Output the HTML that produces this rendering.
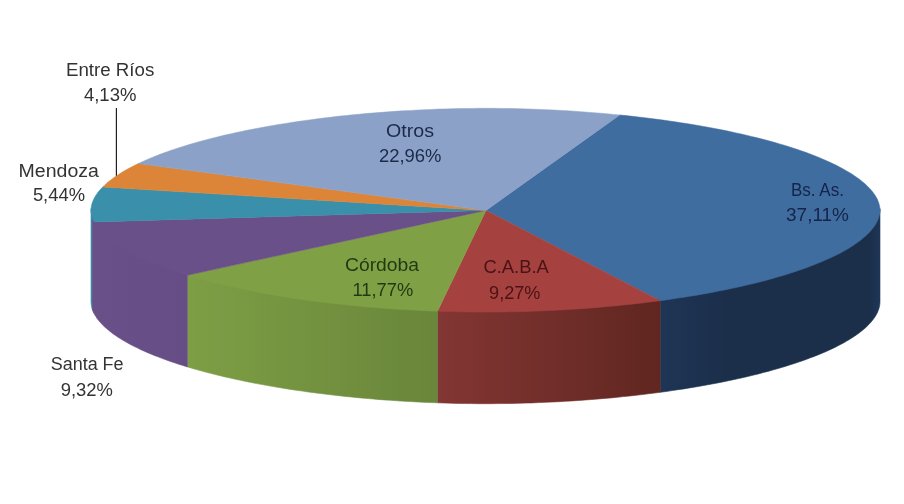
<!DOCTYPE html>
<html lang="es"><head><meta charset="utf-8"><title>Gráfico</title>
<style>html,body{margin:0;padding:0;background:#fff;}svg{display:block;}</style></head>
<body>
<svg width="904" height="504" viewBox="0 0 904 504">
<defs>
<linearGradient id="gBlue" gradientUnits="userSpaceOnUse" x1="660" y1="0" x2="881" y2="0">
<stop offset="0" stop-color="#1f3555"/><stop offset="0.3" stop-color="#1b2f4b"/><stop offset="0.95" stop-color="#1b2f4b"/><stop offset="1" stop-color="#1f3758"/></linearGradient>
<linearGradient id="gRed" gradientUnits="userSpaceOnUse" x1="438" y1="0" x2="662" y2="0">
<stop offset="0" stop-color="#833634"/><stop offset="1" stop-color="#602620"/></linearGradient>
<linearGradient id="gGreen" gradientUnits="userSpaceOnUse" x1="187" y1="0" x2="438" y2="0">
<stop offset="0" stop-color="#7e9e45"/><stop offset="1" stop-color="#69863a"/></linearGradient>
<linearGradient id="gPurple" gradientUnits="userSpaceOnUse" x1="91" y1="0" x2="187" y2="0">
<stop offset="0" stop-color="#6a5089"/><stop offset="1" stop-color="#664d85"/></linearGradient>
</defs>
<rect width="904" height="504" fill="#ffffff"/>
<polygon points="94.1,220.4 93.3,218.7 92.6,217.1 92.0,215.4 91.6,213.7 91.3,212.1 91.1,210.4 91.0,208.7 91.0,301.8 91.1,303.5 91.3,305.2 91.6,306.8 92.0,308.5 92.6,310.2 93.3,311.8 94.1,313.5" fill="#3a8ea8" stroke="#3a8ea8" stroke-width="0.6" stroke-linejoin="round"/>
<polygon points="880.0,208.7 879.9,210.5 879.7,212.2 879.3,214.0 878.9,215.7 878.2,217.5 877.5,219.3 876.6,221.0 875.6,222.8 874.5,224.5 873.3,226.2 871.9,227.9 870.4,229.7 868.8,231.4 867.1,233.1 865.3,234.8 863.4,236.5 861.3,238.1 859.1,239.8 856.9,241.5 854.5,243.1 852.0,244.7 849.4,246.4 846.7,248.0 843.9,249.6 841.0,251.1 838.0,252.7 834.9,254.3 831.7,255.8 828.4,257.3 825.0,258.9 821.5,260.3 817.9,261.8 814.2,263.3 810.4,264.7 806.6,266.2 802.6,267.6 798.6,269.0 794.4,270.4 790.2,271.7 785.9,273.1 781.5,274.4 777.1,275.7 772.5,277.0 767.9,278.3 763.2,279.5 758.4,280.8 753.5,282.0 748.6,283.2 743.5,284.4 738.5,285.5 733.3,286.6 728.1,287.7 722.8,288.8 717.4,289.9 711.9,290.9 706.4,291.9 700.9,292.9 695.2,293.9 689.5,294.8 683.8,295.8 678.0,296.6 672.1,297.5 666.1,298.4 660.2,299.2 660.2,392.3 666.1,391.5 672.1,390.6 678.0,389.7 683.8,388.9 689.5,387.9 695.2,387.0 700.9,386.0 706.4,385.0 711.9,384.0 717.4,383.0 722.8,381.9 728.1,380.8 733.3,379.7 738.5,378.6 743.5,377.5 748.6,376.3 753.5,375.1 758.4,373.9 763.2,372.6 767.9,371.4 772.5,370.1 777.1,368.8 781.5,367.5 785.9,366.2 790.2,364.8 794.4,363.5 798.6,362.1 802.6,360.7 806.6,359.3 810.4,357.8 814.2,356.4 817.9,354.9 821.5,353.4 825.0,352.0 828.4,350.4 831.7,348.9 834.9,347.4 838.0,345.8 841.0,344.2 843.9,342.7 846.7,341.1 849.4,339.5 852.0,337.8 854.5,336.2 856.9,334.6 859.1,332.9 861.3,331.2 863.4,329.6 865.3,327.9 867.1,326.2 868.8,324.5 870.4,322.8 871.9,321.0 873.3,319.3 874.5,317.6 875.6,315.9 876.6,314.1 877.5,312.4 878.2,310.6 878.9,308.8 879.3,307.1 879.7,305.3 879.9,303.6 880.0,301.8" fill="url(#gBlue)" stroke="url(#gBlue)" stroke-width="0.6" stroke-linejoin="round"/>
<polygon points="660.2,299.2 654.2,300.0 648.1,300.7 642.0,301.5 635.9,302.2 629.7,302.9 623.4,303.5 617.1,304.2 610.8,304.8 604.4,305.3 598.0,305.9 591.6,306.4 585.1,306.9 578.6,307.4 572.0,307.8 565.4,308.2 558.8,308.6 552.2,308.9 545.5,309.2 538.8,309.5 532.1,309.8 525.4,310.0 518.6,310.2 511.9,310.3 505.1,310.4 498.4,310.5 491.6,310.6 484.8,310.6 478.0,310.6 471.2,310.5 464.5,310.4 457.7,310.3 450.9,310.1 444.2,309.9 437.5,309.7 437.5,402.8 444.2,403.0 450.9,403.2 457.7,403.4 464.5,403.5 471.2,403.6 478.0,403.7 484.8,403.7 491.6,403.7 498.4,403.6 505.1,403.5 511.9,403.4 518.6,403.3 525.4,403.1 532.1,402.9 538.8,402.6 545.5,402.3 552.2,402.0 558.8,401.7 565.4,401.3 572.0,400.9 578.6,400.5 585.1,400.0 591.6,399.5 598.0,399.0 604.4,398.4 610.8,397.9 617.1,397.3 623.4,396.6 629.7,396.0 635.9,395.3 642.0,394.6 648.1,393.8 654.2,393.1 660.2,392.3" fill="url(#gRed)" stroke="url(#gRed)" stroke-width="0.6" stroke-linejoin="round"/>
<polygon points="437.5,309.7 430.7,309.5 424.0,309.2 417.2,308.8 410.5,308.5 403.9,308.1 397.2,307.7 390.6,307.2 384.0,306.8 377.5,306.3 371.0,305.7 364.5,305.2 358.1,304.6 351.7,304.0 345.4,303.3 339.1,302.6 332.9,301.9 326.7,301.2 320.5,300.4 314.4,299.7 308.4,298.9 302.4,298.0 296.5,297.2 290.6,296.3 284.8,295.4 279.0,294.4 273.3,293.5 267.7,292.5 262.2,291.5 256.7,290.5 251.2,289.4 245.9,288.3 240.6,287.2 235.4,286.1 230.2,285.0 225.1,283.8 220.1,282.6 215.2,281.4 210.4,280.2 205.6,279.0 200.9,277.7 196.3,276.4 191.8,275.1 187.3,273.8 187.3,366.9 191.8,368.2 196.3,369.5 200.9,370.8 205.6,372.1 210.4,373.3 215.2,374.5 220.1,375.7 225.1,376.9 230.2,378.1 235.4,379.2 240.6,380.3 245.9,381.4 251.2,382.5 256.7,383.6 262.2,384.6 267.7,385.6 273.3,386.6 279.0,387.5 284.8,388.5 290.6,389.4 296.5,390.3 302.4,391.1 308.4,392.0 314.4,392.8 320.5,393.5 326.7,394.3 332.9,395.0 339.1,395.7 345.4,396.4 351.7,397.1 358.1,397.7 364.5,398.3 371.0,398.8 377.5,399.4 384.0,399.9 390.6,400.3 397.2,400.8 403.9,401.2 410.5,401.6 417.2,401.9 424.0,402.3 430.7,402.6 437.5,402.8" fill="url(#gGreen)" stroke="url(#gGreen)" stroke-width="0.6" stroke-linejoin="round"/>
<polygon points="187.3,273.8 183.0,272.4 178.7,271.1 174.5,269.7 170.4,268.3 166.4,266.9 162.5,265.5 158.7,264.0 154.9,262.6 151.3,261.1 147.7,259.6 144.3,258.1 140.9,256.6 137.7,255.0 134.5,253.5 131.4,251.9 128.5,250.3 125.6,248.7 122.9,247.1 120.2,245.5 117.7,243.9 115.2,242.2 112.9,240.6 110.7,238.9 108.6,237.2 106.6,235.5 104.7,233.9 102.9,232.2 101.3,230.4 99.7,228.7 98.3,227.0 97.0,225.3 95.9,223.5 94.8,221.8 93.9,220.0 93.1,218.3 92.4,216.5 92.4,309.6 93.1,311.4 93.9,313.1 94.8,314.9 95.9,316.6 97.0,318.4 98.3,320.1 99.7,321.8 101.3,323.5 102.9,325.3 104.7,327.0 106.6,328.6 108.6,330.3 110.7,332.0 112.9,333.7 115.2,335.3 117.7,337.0 120.2,338.6 122.9,340.2 125.6,341.8 128.5,343.4 131.4,345.0 134.5,346.6 137.7,348.1 140.9,349.7 144.3,351.2 147.7,352.7 151.3,354.2 154.9,355.7 158.7,357.1 162.5,358.6 166.4,360.0 170.4,361.4 174.5,362.8 178.7,364.2 183.0,365.5 187.3,366.9" fill="url(#gPurple)" stroke="url(#gPurple)" stroke-width="0.6" stroke-linejoin="round"/>
<polygon points="486.0,210.4 619.7,115.0 626.0,115.6 632.3,116.3 638.5,117.0 644.7,117.7 650.9,118.5 657.0,119.3 663.0,120.1 669.0,120.9 674.9,121.8 680.8,122.7 686.6,123.6 692.4,124.5 698.1,125.5 703.7,126.5 709.3,127.5 714.7,128.5 720.2,129.6 725.5,130.6 730.8,131.7 736.0,132.9 741.2,134.0 746.3,135.2 751.3,136.4 756.2,137.6 761.0,138.8 765.8,140.0 770.5,141.3 775.1,142.6 779.6,143.9 784.1,145.2 788.4,146.6 792.7,147.9 796.9,149.3 801.0,150.7 805.0,152.1 808.9,153.6 812.7,155.0 816.5,156.5 820.1,158.0 823.6,159.5 827.1,161.0 830.5,162.5 833.7,164.1 836.9,165.6 839.9,167.2 842.9,168.8 845.7,170.4 848.5,172.0 851.1,173.6 853.6,175.2 856.1,176.9 858.4,178.5 860.6,180.2 862.7,181.9 864.7,183.6 866.5,185.3 868.3,187.0 869.9,188.7 871.5,190.4 872.9,192.2 874.1,193.9 875.3,195.6 876.3,197.4 877.3,199.1 878.0,200.9 878.7,202.7 879.2,204.4 879.6,206.2 879.9,208.0 880.0,209.7 880.0,211.5 879.8,213.3 879.4,215.0 879.0,216.8 878.4,218.6 877.7,220.3 876.8,222.1 875.9,223.8 874.8,225.6 873.6,227.3 872.2,229.1 870.8,230.8 869.2,232.5 867.5,234.2 865.7,235.9 863.7,237.6 861.7,239.3 859.6,241.0 857.3,242.6 854.9,244.3 852.5,245.9 849.9,247.6 847.2,249.2 844.4,250.8 841.5,252.4 838.5,254.0 835.4,255.5 832.2,257.1 828.9,258.6 825.5,260.1 822.0,261.6 818.4,263.1 814.7,264.6 810.9,266.1 807.0,267.5 803.1,268.9 799.0,270.3 794.9,271.7 790.7,273.1 786.4,274.5 782.0,275.8 777.5,277.1 772.9,278.4 768.3,279.7 763.5,281.0 758.7,282.2 753.9,283.4 748.9,284.6 743.9,285.8 738.8,286.9 733.6,288.1 728.3,289.2 723.0,290.3 717.6,291.3 712.1,292.4 706.6,293.4 701.0,294.4 695.4,295.4 689.6,296.3 683.9,297.2 678.0,298.1 672.1,299.0 666.2,299.9 660.2,300.7" fill="#406d9f" stroke="#406d9f" stroke-width="0.5" stroke-linejoin="round"/>
<polygon points="486.0,210.4 660.2,300.7 654.2,301.5 648.1,302.2 642.0,303.0 635.9,303.7 629.7,304.4 623.4,305.0 617.1,305.7 610.8,306.3 604.4,306.8 598.0,307.4 591.6,307.9 585.1,308.4 578.6,308.9 572.0,309.3 565.4,309.7 558.8,310.1 552.2,310.4 545.5,310.7 538.8,311.0 532.1,311.3 525.4,311.5 518.6,311.7 511.9,311.8 505.1,311.9 498.4,312.0 491.6,312.1 484.8,312.1 478.0,312.1 471.2,312.0 464.5,311.9 457.7,311.8 450.9,311.6 444.2,311.4 437.5,311.2" fill="#a5423f" stroke="#a5423f" stroke-width="0.5" stroke-linejoin="round"/>
<polygon points="486.0,210.4 437.5,311.2 430.7,311.0 424.0,310.7 417.2,310.3 410.5,310.0 403.9,309.6 397.2,309.2 390.6,308.7 384.0,308.3 377.5,307.8 371.0,307.2 364.5,306.7 358.1,306.1 351.7,305.5 345.4,304.8 339.1,304.1 332.9,303.4 326.7,302.7 320.5,301.9 314.4,301.2 308.4,300.4 302.4,299.5 296.5,298.7 290.6,297.8 284.8,296.9 279.0,295.9 273.3,295.0 267.7,294.0 262.2,293.0 256.7,292.0 251.2,290.9 245.9,289.8 240.6,288.7 235.4,287.6 230.2,286.5 225.1,285.3 220.1,284.1 215.2,282.9 210.4,281.7 205.6,280.5 200.9,279.2 196.3,277.9 191.8,276.6 187.3,275.3" fill="#80a046" stroke="#80a046" stroke-width="0.5" stroke-linejoin="round"/>
<polygon points="486.0,210.4 187.3,275.3 183.0,274.0 178.8,272.6 174.6,271.2 170.5,269.8 166.5,268.4 162.6,267.0 158.8,265.6 155.1,264.1 151.5,262.7 147.9,261.2 144.5,259.7 141.2,258.2 137.9,256.6 134.8,255.1 131.7,253.5 128.8,252.0 125.9,250.4 123.2,248.8 120.5,247.2 118.0,245.6 115.5,243.9 113.2,242.3 111.0,240.6 108.9,239.0 106.9,237.3 105.0,235.6 103.2,233.9 101.6,232.2 100.0,230.5 98.6,228.8 97.3,227.1 96.1,225.4 95.0,223.6 94.1,221.9" fill="#6a5089" stroke="#6a5089" stroke-width="0.5" stroke-linejoin="round"/>
<polygon points="486.0,210.4 94.1,221.9 93.2,220.2 92.5,218.4 92.0,216.6 91.5,214.9 91.2,213.1 91.0,211.4 91.0,209.6 91.1,207.9 91.4,206.1 91.8,204.3 92.3,202.6 93.0,200.8 93.8,199.1 94.7,197.3 95.7,195.6 96.9,193.9 98.1,192.1 99.5,190.4 101.0,188.7 102.7,187.0" fill="#3a90aa" stroke="#3a90aa" stroke-width="0.5" stroke-linejoin="round"/>
<polygon points="486.0,210.4 102.7,187.0 104.4,185.4 106.1,183.7 108.0,182.1 110.0,180.5 112.1,178.9 114.3,177.3 116.6,175.8 119.0,174.2 121.5,172.6 124.0,171.1 126.7,169.5 129.5,168.0 132.4,166.5 135.3,165.0 138.4,163.5" fill="#dc8538" stroke="#dc8538" stroke-width="0.5" stroke-linejoin="round"/>
<polygon points="486.0,210.4 138.4,163.5 141.7,162.0 145.1,160.5 148.5,159.0 152.1,157.5 155.8,156.0 159.5,154.5 163.4,153.1 167.3,151.7 171.3,150.3 175.4,148.9 179.7,147.5 183.9,146.2 188.3,144.8 192.8,143.5 197.3,142.2 201.9,140.9 206.6,139.7 211.4,138.4 216.3,137.2 221.2,136.0 226.2,134.8 231.3,133.7 236.4,132.5 241.7,131.4 247.0,130.3 252.3,129.3 257.8,128.2 263.3,127.2 268.8,126.2 274.5,125.2 280.2,124.3 285.9,123.4 291.7,122.4 297.6,121.6 303.5,120.7 309.5,119.9 315.6,119.1 321.7,118.3 327.8,117.6 334.0,116.8 340.2,116.1 346.5,115.5 352.9,114.8 359.3,114.2 365.7,113.6 372.1,113.1 378.6,112.6 385.2,112.1 391.8,111.6 398.4,111.1 405.0,110.7 411.7,110.4 418.4,110.0 425.1,109.7 431.8,109.4 438.6,109.1 445.4,108.9 452.2,108.7 459.0,108.6 465.8,108.5 472.6,108.4 479.5,108.3 486.3,108.3 493.2,108.3 500.0,108.4 506.8,108.5 513.7,108.6 520.5,108.8 527.3,109.0 534.1,109.2 540.8,109.5 547.5,109.8 554.3,110.1 560.9,110.4 567.6,110.8 574.2,111.2 580.8,111.7 587.4,112.2 593.9,112.7 600.4,113.2 606.9,113.8 613.3,114.4 619.7,115.0" fill="#8ba1c7" stroke="#8ba1c7" stroke-width="0.5" stroke-linejoin="round"/>
<line x1="116.4" y1="108" x2="116.4" y2="175.8" stroke="#222" stroke-width="1.2"/>
<g font-family="'Liberation Sans', sans-serif" font-size="17.5">
<text x="66.0" y="76.2" textLength="88.3" lengthAdjust="spacingAndGlyphs" fill="#333">Entre Ríos</text>
<text x="83.9" y="100.5" textLength="52.5" lengthAdjust="spacingAndGlyphs" fill="#333">4,13%</text>
<text x="18.6" y="176.9" textLength="80.3" lengthAdjust="spacingAndGlyphs" fill="#333">Mendoza</text>
<text x="32.9" y="201.2" textLength="52.1" lengthAdjust="spacingAndGlyphs" fill="#333">5,44%</text>
<text x="386.1" y="136.8" textLength="48.0" lengthAdjust="spacingAndGlyphs" fill="#1c2a4a">Otros</text>
<text x="378.9" y="161.8" textLength="62.5" lengthAdjust="spacingAndGlyphs" fill="#1c2a4a">22,96%</text>
<text x="790.9" y="195.7" textLength="53.0" lengthAdjust="spacingAndGlyphs" fill="#14244a">Bs. As.</text>
<text x="786.1" y="221.2" textLength="62.8" lengthAdjust="spacingAndGlyphs" fill="#14244a">37,11%</text>
<text x="345.0" y="270.9" textLength="74.1" lengthAdjust="spacingAndGlyphs" fill="#1f3a12">Córdoba</text>
<text x="352.5" y="295.5" textLength="60.7" lengthAdjust="spacingAndGlyphs" fill="#1f3a12">11,77%</text>
<text x="483.4" y="273.2" textLength="65.5" lengthAdjust="spacingAndGlyphs" fill="#4a1214">C.A.B.A</text>
<text x="489.1" y="298.5" textLength="51.3" lengthAdjust="spacingAndGlyphs" fill="#4a1214">9,27%</text>
<text x="50.7" y="370.1" textLength="72.9" lengthAdjust="spacingAndGlyphs" fill="#333">Santa Fe</text>
<text x="60.7" y="395.7" textLength="52.2" lengthAdjust="spacingAndGlyphs" fill="#333">9,32%</text>
</g>
</svg>
</body></html>
